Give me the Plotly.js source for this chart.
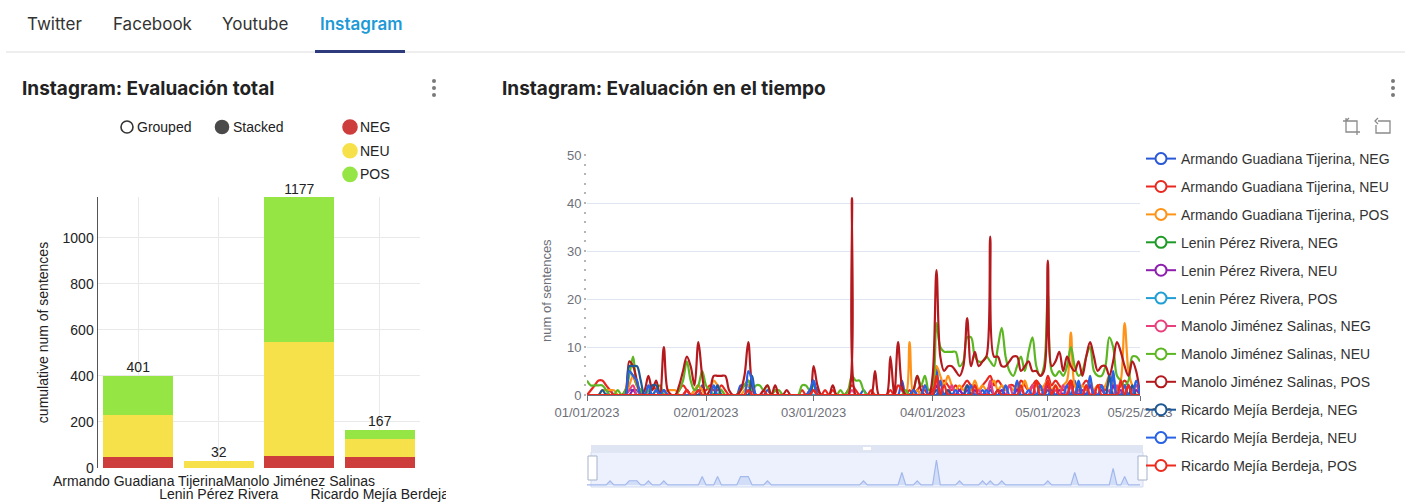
<!DOCTYPE html>
<html>
<head>
<meta charset="utf-8">
<script src="https://cdn.plot.ly/plotly-3.0.1.min.js"></script>
<style>
body{margin:0;width:1411px;height:504px;position:relative;overflow:hidden;background:#fff;font-family:'Liberation Sans',Arial,sans-serif;}
.tab{position:absolute;top:12px;font-size:17px;color:#333;line-height:24px;font-family:Inter,'Liberation Sans',sans-serif;}
.tab.active{color:#1d9ad6;font-weight:600;}
#tabline{position:absolute;left:6px;right:6px;top:51px;height:2px;background:#eeeeee;}
#tabul{position:absolute;left:315px;width:90px;top:50px;height:3px;background:#2d3b7c;}
.title{position:absolute;top:78px;font-size:19px;font-weight:700;color:#222;line-height:22px;font-family:Inter,'Liberation Sans',sans-serif;}
.kebab{position:absolute;top:79px;width:4px;}
.kebab i{display:block;width:4px;height:4px;border-radius:2px;background:#7a7a7a;margin-bottom:3px;}
#left{position:absolute;left:0;top:100px;width:446px;height:404px;overflow:hidden;}
#right{position:absolute;left:490px;top:0;width:921px;height:504px;}
#tools{position:absolute;left:1342px;top:116px;}
</style>
</head>
<body>
<div class="tab" style="left:27px">Twitter</div>
<div class="tab" style="left:113px">Facebook</div>
<div class="tab" style="left:222px">Youtube</div>
<div class="tab active" style="left:320px">Instagram</div>
<div id="tabline"></div>
<div id="tabul"></div>
<div class="title" style="left:22px">Instagram: Evaluación total</div>
<div class="title" style="left:502px">Instagram: Evaluación en el tiempo</div>
<div class="kebab" style="left:432px"><i></i><i></i><i></i></div>
<div class="kebab" style="left:1391px"><i></i><i></i><i></i></div>
<div id="left"></div>
<div id="right"></div>
<svg id="tools" width="52" height="20" viewBox="0 0 52 20">
  <g fill="none" stroke="#8a8a8a" stroke-width="1.3">
    <path d="M4 2 V16 H18 M1 5 H15 V19 M4 5 L7 2"/>
    <path d="M36 5 H48 V17 H34 V9 M36 2 L33 5 L36 8"/>
  </g>
</svg>
<script>
// ---------------- bar chart data ----------------
const candidates = ['Armando Guadiana Tijerina', 'Lenin Pérez Rivera', 'Manolo Jiménez Salinas', 'Ricardo Mejía Berdeja'];
const sentiments = ['NEG', 'NEU', 'POS'];
const negTotals = [48, 0, 52, 48];
const neuTotals = [181, 32, 496, 80];
const posTotals = [172, 0, 629, 39];

// ---------------- time series data (daily, 2023-01-01 .. 2023-05-25) ----------------
const startDate = '2023-01-01';
const dayCount = 145;
const dateTickVals = ['2023-01-01', '2023-02-01', '2023-03-01', '2023-04-01', '2023-05-01', '2023-05-25'];
const dateTickText = ['01/01/2023', '02/01/2023', '03/01/2023', '04/01/2023', '05/01/2023', '05/25/2023'];

const armandoNeg = [
 0,0,0,0,0,0,1,0,0,0, 0,1,1,1,0,0,1,0,0,0, 1,0,0,0,0,0,0,0,0,0, 2,
 0,0,0,2,0,0,0,0,0,2, 2,2,0,0,0,0,1,0,0,0, 0,0,0,0,0,0,0,0,
 0,0,0,0,0,0,0,0,0,0, 0,0,0,1,0,0,0,0,0,0, 0,0,0,3,0,0,0,1,0,0, 0,
 0,6,0,0,0,0,0,1,0,0, 0,0,0,1,0,1,0,0,1,0, 0,0,0,0,0,0,0,0,0,0,
 1,0,0,0,0,0,0,3,0,0, 0,0,0,0,0,0,0,4,0,0, 2,0,0,0,0
];
const armandoNeu = [
 0,1,2,3,3,2,1,0,0,0, 1,5,4,2,1,0,1,2,1,0, 1,0,0,0,1,2,1,0,1,2, 1,
 1,2,1,1,2,1,0,0,0,1, 2,3,1,0,0,1,0,0,1,0, 0,0,0,0,0,1,0,1,
 2,1,0,1,0,1,0,0,0,1, 2,1,0,0,0,1,0,0,0,0, 1,0,2,1,0,1,0,1,2,1, 0,
 1,4,2,3,2,1,2,1,2,3, 2,2,1,2,3,4,2,3,2,1, 2,2,1,3,2,1,2,3,2,1,
 4,2,3,2,1,2,3,2,1,2, 3,2,1,2,2,1,3,2,1,2, 3,2,1,2,0
];
const armandoPos = [
 0,0,0,0,1,1,1,1,0,0, 0,2,4,2,0,0,1,0,0,0, 0,1,1,1,0,0,1,0,1,2, 1,
 0,1,3,2,1,0,0,0,0,0, 1,2,1,0,0,0,0,0,0,0, 0,0,0,0,0,0,0,0,
 1,0,0,0,0,0,0,0,0,0, 0,0,0,0,0,0,0,0,0,0, 0,0,0,0,0,11,0,1,0,2, 1,
 2,6,4,2,4,2,1,2,1,2, 1,3,1,2,1,2,3,1,2,1, 2,1,2,1,3,1,2,2,1,2,
 3,1,2,1,2,3,13,2,1,2, 1,3,1,2,1,2,4,2,1,3, 15,5,2,1,0
];
const leninNeg = [
 0,0,0,0,0,0,0,0,0,0, 0,0,0,0,0,0,0,0,0,0, 0,0,0,0,0,0,0,0,0,0, 0,
 0,0,0,0,0,0,0,0,0,0, 0,0,0,0,0,0,0,0,0,0, 0,0,0,0,0,0,0,0,
 0,0,0,0,0,0,0,0,0,0, 0,0,0,0,0,0,0,0,0,0, 0,0,0,0,0,0,0,0,0,0, 0,
 0,0,0,0,0,0,0,0,0,0, 0,0,0,0,0,0,0,0,0,0, 0,0,0,0,0,0,0,0,0,0,
 0,0,0,0,0,0,0,0,0,0, 0,0,0,0,0,0,0,0,0,0, 0,0,0,0,0
];
const leninNeu = [
 0,0,0,0,0,0,0,0,0,0, 0,0,1,0,0,0,0,0,0,0, 0,0,0,0,0,0,1,0,0,0, 0,
 0,0,0,0,0,0,0,0,0,0, 0,0,1,0,0,0,0,0,0,0, 0,0,0,0,0,0,0,0,
 1,0,0,0,0,0,0,0,0,0, 0,0,0,0,0,0,0,0,0,0, 0,0,0,0,0,0,1,0,0,0, 0,
 0,2,0,0,1,0,0,1,0,1, 0,1,0,0,0,2,0,0,1,0, 0,0,1,0,0,0,2,0,0,0,
 2,0,0,1,0,0,2,0,0,1, 0,2,0,0,1,0,0,2,0,1, 0,2,0,1,0
];
const leninPos = [
 0,0,0,0,0,0,0,0,0,0, 0,0,0,0,0,0,0,0,0,0, 0,0,0,0,0,0,0,0,0,0, 0,
 0,0,0,0,0,0,0,0,0,0, 0,0,0,0,0,0,0,0,0,0, 0,0,0,0,0,0,0,0,
 0,0,0,0,0,0,0,0,0,0, 0,0,0,0,0,0,0,0,0,0, 0,0,0,0,0,0,0,0,0,0, 0,
 0,0,0,0,0,0,0,0,0,0, 0,0,0,0,0,0,0,0,0,0, 0,0,0,0,0,0,0,0,0,0,
 0,0,0,0,0,0,0,0,0,0, 0,0,0,0,0,0,0,0,0,0, 0,0,0,0,0
];
const manoloNeg = [
 0,0,0,0,0,0,0,0,0,0, 0,1,2,0,0,0,0,0,0,0, 0,0,0,0,0,0,1,0,0,1, 0,
 0,0,0,0,0,0,0,0,0,0, 0,1,0,0,0,0,0,0,0,0, 0,0,0,0,0,0,0,0,
 1,0,0,0,0,0,0,0,0,0, 1,0,0,0,0,0,0,0,0,0, 0,0,0,0,0,0,0,0,0,0, 0,
 0,3,1,0,0,2,0,0,0,2, 0,0,1,0,0,3,0,1,0,0, 2,0,0,1,0,0,2,0,0,1,
 3,0,1,0,2,0,2,0,1,0, 2,0,1,0,2,0,1,0,2,0, 2,0,1,2,0
];
const manoloNeu = [
 3,2,2,2,2,1,0,0,1,0, 1,4,8,2,1,0,1,0,1,2, 0,0,0,0,1,3,7,3,1,2, 5,
 2,1,0,0,1,0,0,0,0,1, 2,3,1,2,2,1,2,0,1,1, 0,0,0,0,0,2,2,1,
 2,0,0,0,0,0,0,1,0,1, 4,3,3,1,0,0,0,0,0,0, 0,0,0,0,1,0,1,4,2,4, 1,
 2,15,10,9,9,9,9,6,7,12, 12,8,7,7,8,7,6,10,14,8, 5,4,6,8,5,9,12,6,4,6,
 21,5,4,5,4,6,10,6,4,5, 8,10,5,4,4,6,12,10,4,3, 2,3,8,8,7
];
const manoloPos = [
 0,0,0,0,0,0,0,0,0,0, 0,7,6,3,0,1,4,1,3,0, 10,1,0,0,2,5,8,6,2,11, 4,
 0,1,4,4,4,4,1,0,0,1, 4,11,2,0,0,1,2,0,2,0, 0,1,0,0,0,0,0,0,
 6,2,0,0,0,2,0,0,0,0, 41,0,0,0,0,0,5,0,0,0, 8,0,11,2,0,0,1,4,1,0, 0,
 4,26,8,5,6,6,5,4,6,16, 6,9,6,7,8,33,8,8,6,6, 7,8,8,5,6,7,5,5,4,5,
 28,6,7,9,5,8,6,5,7,4, 8,11,8,5,6,6,4,7,11,9, 6,4,7,5,0
];
const ricardoNeg = [
 0,0,0,0,1,0,0,0,0,0, 0,6,6,6,3,0,0,2,2,0, 0,0,0,0,0,0,0,0,0,0, 0,
 0,0,0,2,0,0,0,0,0,0, 0,0,4,0,0,0,0,0,0,0, 0,0,0,0,0,0,0,0,
 3,0,0,0,0,0,0,0,0,0, 0,0,0,0,0,0,0,0,0,0, 0,0,0,0,0,0,0,0,0,0, 0,
 0,1,0,0,1,0,0,0,0,2, 0,0,0,0,0,0,0,1,0,0, 0,0,0,0,0,0,0,0,0,0,
 0,0,0,0,0,0,0,0,2,0, 0,0,0,0,0,0,4,0,0,0, 0,0,2,0,0
];
const ricardoNeu = [
 0,0,0,0,0,0,0,0,0,0, 0,5,4,3,0,0,2,0,1,0, 1,0,0,0,0,0,0,0,0,1, 0,
 0,0,2,0,0,0,0,0,0,0, 0,5,3,0,0,0,0,0,0,0, 0,0,0,0,0,0,0,1,
 3,0,0,0,0,0,0,0,0,0, 0,0,0,0,0,0,0,0,0,0, 0,0,0,0,0,0,1,0,0,2, 0,
 0,0,3,0,0,0,1,0,0,0, 2,0,0,0,1,0,0,0,0,2, 0,0,3,0,0,1,0,0,2,0,
 0,1,0,0,0,2,0,0,3,0, 0,4,0,0,2,0,0,5,0,0, 2,0,0,3,0
];
const ricardoPos = [
 0,0,0,0,0,0,0,0,0,0, 0,0,0,0,0,0,0,0,0,0, 0,0,0,0,0,0,1,0,0,1, 0,
 0,0,0,0,0,0,0,0,0,0, 0,1,0,0,0,0,0,0,0,0, 0,0,0,0,0,0,0,0,
 1,0,0,0,0,0,0,0,0,0, 0,0,0,0,0,0,0,0,0,0, 0,0,0,0,0,0,0,0,0,0, 0,
 0,4,0,2,0,0,0,0,0,0, 0,2,0,0,0,0,0,1,0,0, 0,0,0,2,0,0,0,3,0,0,
 3,0,2,0,0,0,3,0,0,0, 2,0,0,2,0,0,0,0,0,3, 0,2,0,0,0
];

const seriesList = [
  {name: 'Armando Guadiana Tijerina, NEG', values: armandoNeg, color: '#2a59d8'},
  {name: 'Armando Guadiana Tijerina, NEU', values: armandoNeu, color: '#e8271f'},
  {name: 'Armando Guadiana Tijerina, POS', values: armandoPos, color: '#ff9318'},
  {name: 'Lenin Pérez Rivera, NEG', values: leninNeg, color: '#1e9a27'},
  {name: 'Lenin Pérez Rivera, NEU', values: leninNeu, color: '#8d1fae'},
  {name: 'Lenin Pérez Rivera, POS', values: leninPos, color: '#1f9fd3'},
  {name: 'Manolo Jiménez Salinas, NEG', values: manoloNeg, color: '#e83f7d'},
  {name: 'Manolo Jiménez Salinas, NEU', values: manoloNeu, color: '#5cb622'},
  {name: 'Manolo Jiménez Salinas, POS', values: manoloPos, color: '#b3191d'},
  {name: 'Ricardo Mejía Berdeja, NEG', values: ricardoNeg, color: '#1f5895'},
  {name: 'Ricardo Mejía Berdeja, NEU', values: ricardoNeu, color: '#2962e4'},
  {name: 'Ricardo Mejía Berdeja, POS', values: ricardoPos, color: '#ee2a1c'}
];

// build the date axis
const dates = [];
const t0 = Date.parse(startDate + 'T00:00:00Z');
for (let i = 0; i < dayCount; i++) dates.push(new Date(t0 + i * 86400000).toISOString().slice(0, 10));
seriesList.forEach(s => { if (s.values.length !== dayCount) console.error(s.name + ' has ' + s.values.length); });

const FONT = 'Liberation Sans, Arial, sans-serif';

// ---------------- LEFT: stacked bars ----------------
const barColors = {NEG: '#cd3d3c', NEU: '#f7e14a', POS: '#95e545'};
const barValues = {NEG: negTotals, NEU: neuTotals, POS: posTotals};
const totals = candidates.map((c, i) => negTotals[i] + neuTotals[i] + posTotals[i]);

const L = {x0: 98, x1: 420, y0: 197, y1: 468, top: 100};
const lx = px => (px - L.x0) / (L.x1 - L.x0);
const ly = py => (L.y1 - py) / (L.y1 - L.y0);

const leftTraces = sentiments.map(s => ({
  type: 'bar', name: s, x: candidates, y: barValues[s],
  marker: {color: barColors[s]}, hoverinfo: 'x+y+name'
}));
leftTraces.push({
  type: 'scatter', mode: 'text', x: candidates, y: totals, xaxis: 'x2',
  text: totals.map(String), textposition: 'top center',
  textfont: {size: 14, color: '#222', family: FONT}, cliponaxis: false, hoverinfo: 'skip'
});

function circ(px, py, r, fill, line) {
  return {type: 'circle', xref: 'paper', yref: 'paper', xsizemode: 'pixel', ysizemode: 'pixel',
    xanchor: lx(px), yanchor: ly(py), x0: -r, x1: r, y0: -r, y1: r,
    fillcolor: fill, line: {color: line, width: 1.6}};
}
function lab(px, py, txt) {
  return {xref: 'paper', yref: 'paper', x: lx(px), y: ly(py), xanchor: 'left', yanchor: 'middle',
    text: txt, showarrow: false, font: {size: 14, color: '#222', family: FONT}};
}
const leftShapes = [
  circ(127, 127, 6, '#ffffff', '#333'),
  circ(222, 127, 6.5, '#4a4a4a', '#4a4a4a')
];
const leftAnn = [lab(135, 127, 'Grouped'), lab(231, 127, 'Stacked')];
sentiments.forEach((s, i) => {
  const yy = 127 + i * 23.7;
  leftShapes.push(circ(350, yy, 7, barColors[s], barColors[s]));
  leftAnn.push(lab(358, yy, s));
});

const rowA = candidates.filter((c, i) => i % 2 === 0);
const rowB = candidates.filter((c, i) => i % 2 === 1);
const catAxis = {type: 'category', categoryorder: 'array', categoryarray: candidates, range: [-0.5, 3.5],
  tickangle: 0, automargin: false, showline: false, ticks: '', zeroline: false,
  tickfont: {size: 14, color: '#222'}};

const leftLayout = {
  width: 470, height: 404,
  margin: {l: L.x0, r: 470 - L.x1, t: L.y0 - L.top, b: 404 - (L.y1 - L.top)},
  barmode: 'stack', bargap: 0.13, showlegend: false,
  paper_bgcolor: 'rgba(0,0,0,0)', plot_bgcolor: '#fff',
  font: {family: FONT, size: 14, color: '#222'},
  xaxis: Object.assign({}, catAxis, {tickvals: rowA, ticktext: rowA, ticklabelstandoff: 3,
    showgrid: true, gridcolor: '#e9e9e9'}),
  xaxis2: Object.assign({}, catAxis, {tickvals: rowB, ticktext: rowB, ticklabelstandoff: 16,
    overlaying: 'x', anchor: 'y', showgrid: true, gridcolor: '#e9e9e9'}),
  yaxis: {range: [0, 1177], dtick: 200, showline: true, linecolor: '#555', linewidth: 1.5,
    gridcolor: '#e9e9e9', zeroline: false, ticks: '', tickfont: {size: 14, color: '#222'},
    title: {text: 'cumulative num of sentences', font: {size: 14, color: '#222'}, standoff: 10}},
  shapes: leftShapes, annotations: leftAnn
};
Plotly.newPlot('left', leftTraces, leftLayout, {displayModeBar: false, staticPlot: true});

// ---------------- RIGHT: time series ----------------
const R = {x0: 587, x1: 1140, y0: 155, y1: 487, left: 490, top: 0, w: 921, h: 504};
const rx = px => (px - R.x0) / (R.x1 - R.x0);
const ry = py => (R.y1 - py) / (R.y1 - R.y0);
const mainBottom = 395, sliderTop = 445;

const rightTraces = [];
seriesList.forEach(s => {
  rightTraces.push({
    type: 'scatter', mode: 'lines', name: s.name, x: dates, y: s.values,
    line: {color: s.color, width: 2.2, shape: 'spline', smoothing: 1}, showlegend: false, legendgroup: s.name
  });
});
seriesList.forEach(s => {
  rightTraces.push({
    type: 'scatter', mode: 'lines+markers', name: s.name, x: [dates[0]], y: [null],
    line: {color: s.color, width: 2}, marker: {symbol: 'circle', size: 11, color: '#fff', line: {color: s.color, width: 2}},
    showlegend: true, legendgroup: s.name
  });
});
// data-zoom preview (first series)
rightTraces.push({
  type: 'scatter', mode: 'lines', x: dates, y: seriesList[0].values, xaxis: 'x2', yaxis: 'y2',
  fill: 'tozeroy', fillcolor: 'rgba(150,178,238,0.30)', line: {color: '#a3b8ec', width: 1.2},
  showlegend: false, hoverinfo: 'skip'
});

const rightShapes = [
  {type: 'rect', xref: 'paper', yref: 'paper', x0: rx(591), x1: rx(1143), y0: ry(487), y1: ry(452),
    fillcolor: 'rgba(135,170,245,0.16)', line: {color: '#d3dcee', width: 1}, layer: 'below'},
  {type: 'rect', xref: 'paper', yref: 'paper', x0: rx(591), x1: rx(1143), y0: ry(452), y1: ry(445),
    fillcolor: '#dfe5f2', line: {width: 0}},
  {type: 'rect', xref: 'paper', yref: 'paper', x0: rx(863), x1: rx(871), y0: ry(450), y1: ry(447),
    fillcolor: '#ffffff', line: {width: 0}},
  {type: 'rect', xref: 'paper', yref: 'paper', x0: rx(588), x1: rx(597), y0: ry(480), y1: ry(456),
    fillcolor: '#ffffff', line: {color: '#a5b3cb', width: 1}},
  {type: 'rect', xref: 'paper', yref: 'paper', x0: rx(1138), x1: rx(1147), y0: ry(480), y1: ry(456),
    fillcolor: '#ffffff', line: {color: '#a5b3cb', width: 1}}
];

const rightLayout = {
  width: R.w, height: R.h,
  margin: {l: R.x0 - R.left, r: R.left + R.w - R.x1, t: R.y0 - R.top, b: R.top + R.h - R.y1},
  paper_bgcolor: 'rgba(0,0,0,0)', plot_bgcolor: 'rgba(0,0,0,0)',
  font: {family: FONT, size: 13, color: '#6e7079'},
  xaxis: {type: 'date', range: [startDate, dates[dayCount - 1]], domain: [0, 1], anchor: 'y',
    tickvals: dateTickVals, ticktext: dateTickText, showgrid: false, showline: true,
    linecolor: '#6e7079', linewidth: 1, ticks: 'outside', ticklen: 5, tickcolor: '#6e7079',
    tickfont: {size: 13, color: '#6e7079'}, zeroline: false},
  yaxis: {domain: [ry(mainBottom), 1], range: [0, 50], dtick: 10, gridcolor: '#e0e6f1',
    showline: false, zeroline: false, ticks: 'outside', ticklen: 2, tickwidth: 2, tickcolor: '#b5b5b5',
    minor: {dtick: 2, ticks: 'outside', ticklen: 2, tickwidth: 2, tickcolor: '#b5b5b5', showgrid: false},
    tickfont: {size: 13, color: '#6e7079'}},
  xaxis2: {type: 'date', range: [startDate, dates[dayCount - 1]], domain: [0, 1], anchor: 'y2', visible: false},
  yaxis2: {domain: [0, ry(sliderTop)], range: [-0.5, 9.6], visible: false},
  showlegend: true,
  legend: {x: rx(1141), xanchor: 'left', y: ry(143), yanchor: 'top', tracegroupgap: 6.7, maxheight: 500,
    font: {size: 14, color: '#333', family: FONT}, bgcolor: 'rgba(0,0,0,0)', itemclick: false},
  shapes: rightShapes,
  annotations: [{xref: 'paper', yref: 'paper', x: rx(546), y: ry(291), textangle: -90,
    xanchor: 'center', yanchor: 'middle', showarrow: false, text: 'num of sentences',
    font: {size: 13, color: '#6e7079', family: FONT}}]
};
Plotly.newPlot('right', rightTraces, rightLayout, {displayModeBar: false, staticPlot: true});
</script>
</body>
</html>
